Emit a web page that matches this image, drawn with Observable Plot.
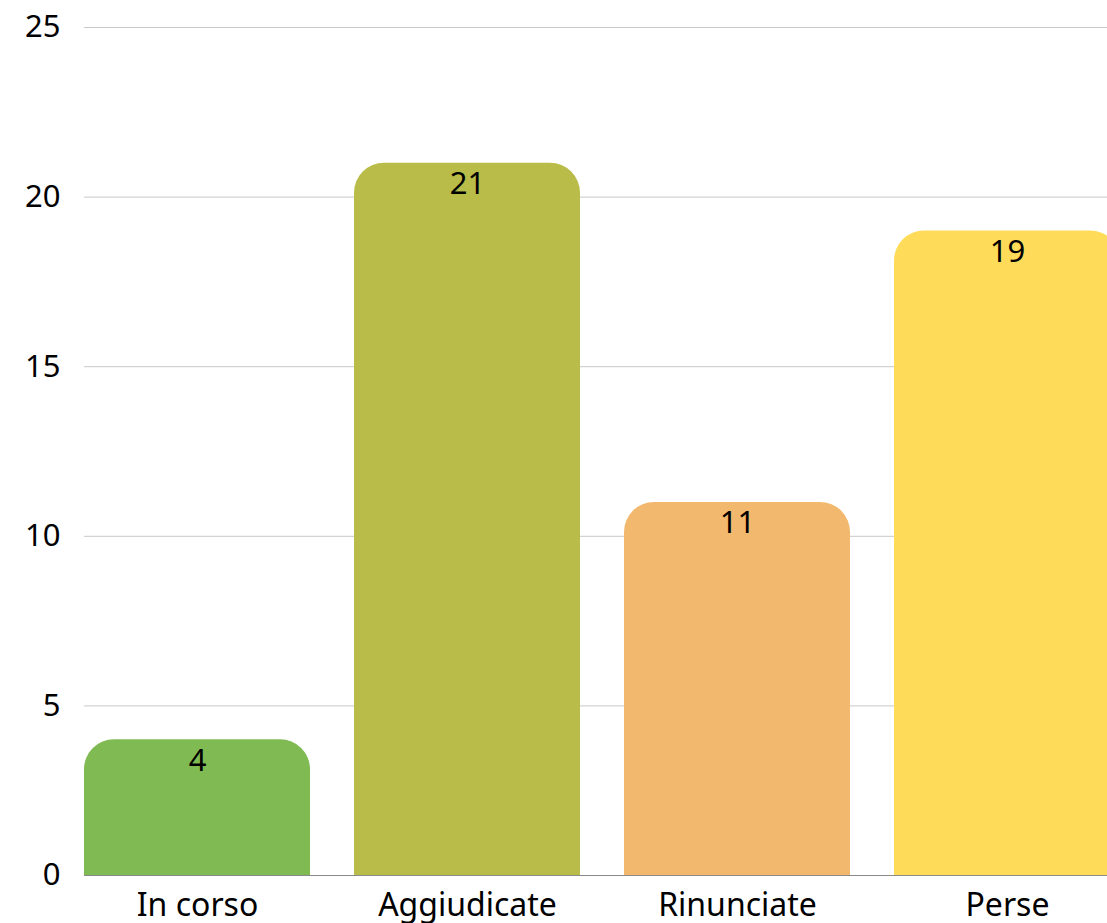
<!DOCTYPE html>
<html>
<head>
<meta charset="utf-8">
<script src="https://cdn.jsdelivr.net/npm/d3@7"></script>
<script src="https://cdn.jsdelivr.net/npm/@observablehq/plot@0.6"></script>
<style>
  html, body { margin: 0; padding: 0; background: white; overflow: hidden; }
  #chart svg { overflow: hidden; display: block; }
</style>
</head>
<body>
<div id="chart"></div>
<script>
const categories = ["In corso", "Aggiudicate", "Rinunciate", "Perse"];
const values = [4, 21, 11, 19];
const colors = ["#7fba53", "#b9bc48", "#f2b86d", "#fedc5a"];
const yTicks = [0, 5, 10, 15, 20, 25];

const data = categories.map((c, i) => ({category: c, value: values[i], color: colors[i]}));

const font = "'Noto Sans', sans-serif";

const chart = Plot.plot({
  width: 1107,
  height: 923,
  marginLeft: 84,
  marginRight: 0,
  marginTop: 27,
  marginBottom: 48,
  style: {fontFamily: font, fontSize: "32px", color: "#000", background: "white", overflow: "hidden"},
  x: {domain: categories, range: [84, 1120], paddingInner: 0.163, paddingOuter: 0},
  y: {domain: [0, 25]},
  marks: [
    Plot.gridY(yTicks, {stroke: "#c8c8c8", strokeOpacity: 1, strokeWidth: 1}),
    Plot.barY(data, {x: "category", y: "value", fill: "color", rx: 30}),
    Plot.barY(data, {x: "category", y1: 0, y2: d => d.value - 1, fill: "color"}),
    Plot.ruleY([0], {stroke: "#8a8a8a", strokeWidth: 1}),
    Plot.text(data, {x: "category", y: "value", text: d => String(d.value), dy: 21, fontSize: 31, fill: "#000"}),
    Plot.axisY(yTicks, {tickSize: 0, tickPadding: 24, fontSize: 31, label: null, fill: "#000"}),
    Plot.axisX({tickSize: 0, tickPadding: 18, fontSize: 32, label: null, fill: "#000"})
  ]
});
document.getElementById("chart").append(chart);
</script>
</body>
</html>
